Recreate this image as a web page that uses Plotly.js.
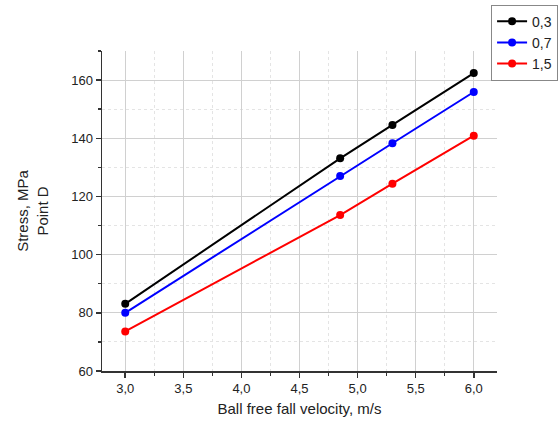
<!DOCTYPE html>
<html>
<head>
<meta charset="utf-8">
<script src="https://cdn.plot.ly/plotly-3.0.1.min.js"></script>
<style>html,body{margin:0;padding:0;background:#fff;}#chart{width:559px;height:421px;}</style>
</head>
<body>
<div id="chart"></div>
<script>
const velocity = [3.0, 4.85, 5.3, 6.0];
const series03 = [83.1, 133.1, 144.6, 162.4];
const series07 = [80.0, 127.0, 138.3, 155.9];
const series15 = [73.6, 113.6, 124.4, 140.9];
const seriesNames = ["0,3", "0,7", "1,5"];
const seriesColors = ["#000000", "#0000ff", "#ff0000"];
const xTickVals = [3.0, 3.5, 4.0, 4.5, 5.0, 5.5, 6.0];
const xTickText = ["3,0", "3,5", "4,0", "4,5", "5,0", "5,5", "6,0"];

const allSeries = [series03, series07, series15];
const traces = allSeries.map((ys, i) => ({
  x: velocity, y: ys, name: seriesNames[i], type: "scatter", mode: "lines+markers",
  line: {color: seriesColors[i], width: 2},
  marker: {color: seriesColors[i], size: 8}
}));

const font = {family: "Liberation Sans, Arial, sans-serif", size: 13, color: "#222"};
const layout = {
  width: 559, height: 421,
  margin: {l: 102, r: 62, t: 51, b: 50, autoexpand: false},
  paper_bgcolor: "#fff", plot_bgcolor: "#fff",
  font: font,
  showlegend: true,
  legend: {x: 0.985, xanchor: "left", y: 1.145, yanchor: "top",
    bordercolor: "#888", borderwidth: 1, bgcolor: "#fff",
    font: {family: font.family, size: 14, color: "#222"}, tracegroupgap: 0},
  xaxis: {
    range: [2.8, 6.2], tickvals: xTickVals, ticktext: xTickText,
    showline: true, linecolor: "#333", linewidth: 1.5,
    ticks: "outside", ticklen: 5, tickcolor: "#333", tickwidth: 1.5,
    showgrid: true, gridcolor: "#d0d0d0", gridwidth: 1, zeroline: false,
    minor: {dtick: 0.25, tick0: 0, showgrid: true, gridcolor: "#e4e4e4", griddash: "dot", ticks: "outside", ticklen: 3, tickcolor: "#333"},
    title: {text: "Ball free fall velocity, m/s", font: {family: font.family, size: 15, color: "#222"}, standoff: 8}
  },
  yaxis: {
    range: [60, 170], dtick: 20, tick0: 60,
    showline: true, linecolor: "#333", linewidth: 1.5,
    ticks: "outside", ticklen: 5, tickcolor: "#333", tickwidth: 1.5,
    showgrid: true, gridcolor: "#d0d0d0", gridwidth: 1, zeroline: false,
    minor: {dtick: 10, showgrid: true, gridcolor: "#e4e4e4", griddash: "dot", ticks: "outside", ticklen: 3, tickcolor: "#333"},
    title: {text: "Stress, MPa<br>Point D", font: {family: font.family, size: 15, color: "#222"}, standoff: 19}
  }
};
Plotly.newPlot("chart", traces, layout, {displayModeBar: false, staticPlot: true});
</script>
</body>
</html>
